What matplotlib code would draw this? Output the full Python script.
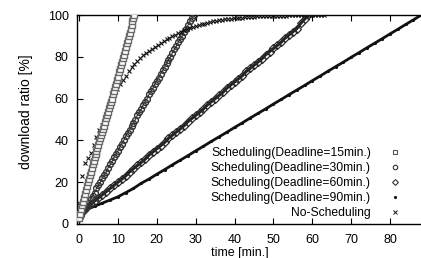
import numpy as np
import matplotlib
matplotlib.use("Agg")
import matplotlib.pyplot as plt
from matplotlib.lines import Line2D

plt.rcParams['font.family'] = ['Liberation Sans', 'DejaVu Sans']

# download ratio [%], one value per sample step
step15 = 0.25
ratio15 = [3, 5, 7, 9, 10.5, 12.5, 14.5, 16.5, 18, 20, 21.5, 23.5, 25, 27, 28.5, 30,
           32, 33.5, 35, 36.5, 38, 39.5, 41, 42.5, 44, 45.5, 47, 49, 50.5, 52, 53.5,
           55.5, 57, 58.5, 60, 62, 63.5, 65.5, 67, 69, 70.5, 72.5, 74, 76, 77.5, 79.5,
           81, 83, 84.5, 86.5, 88, 90, 91.5, 93.5, 95, 97, 98.5, 100]

step30 = 0.5
ratio30 = [3, 4.5, 6, 7, 8.5, 10, 12, 13.5, 15, 17, 18.5, 20, 22, 23.5, 25, 27, 28.5,
           30, 32, 33.5, 35, 37, 38.5, 40, 42, 43.5, 45, 47, 48.5, 50, 52, 53.5, 55,
           57, 58.5, 60, 62, 63.5, 65, 67, 68.5, 70, 72, 73.5, 75, 77, 78.5, 80, 82,
           83.5, 85, 87, 88.5, 90, 92, 93.5, 95, 97, 98.5, 100]

step60 = 1.0
ratio60 = [3, 6, 8, 9.5, 11, 12.5, 14, 15.5, 17, 18.5, 20, 21.5, 23, 25, 26.5, 28,
           29.5, 31, 33, 34.5, 36, 37.5, 39, 41, 42.5, 44, 45.5, 47, 49, 50.5, 52,
           53.5, 55, 57, 58.5, 60, 61.5, 63, 65, 66.5, 68, 69.5, 71, 73, 74.5, 76,
           77.5, 79, 81, 82.5, 84, 85.5, 87, 89, 90.5, 92, 93.5, 96, 98, 100]

step90 = 2.0
ratio90 = [3, 7, 8.5, 10, 11.5, 13, 15, 17, 19.5, 21.5, 23.8, 26, 28.3, 30.5, 32.7,
           35, 37.2, 39.5, 41.7, 43.9, 46.2, 48.4, 50.7, 52.9, 55.1, 57.4, 59.6, 61.9,
           64.1, 66.3, 68.6, 70.8, 73.1, 75.3, 77.5, 79.8, 82, 84.3, 86.5, 88.7, 91,
           93.2, 95.5, 97.7, 100]

step_no = 0.75
ratio_no = [10, 23, 29, 31.5, 34, 38, 41.5, 45, 47.5, 51, 54.5, 58, 61.5, 64.5, 67,
            69, 71, 73, 75, 76.5, 78, 79.5, 80.7, 81.8, 82.8, 83.8, 84.8, 85.7, 86.6,
            87.5, 88.3, 89.1, 89.9, 90.6, 91.3, 92, 92.6, 93.2, 93.7, 94.2, 94.7, 95.1,
            95.5, 95.9, 96.3, 96.6, 96.9, 97.2, 97.5, 97.7, 97.9, 98.1, 98.3, 98.5,
            98.6, 98.7, 98.8, 98.9, 99, 99.1, 99.2, 99.3, 99.3, 99.4, 99.4, 99.5, 99.5,
            99.6, 99.6, 99.7, 99.7, 99.7, 99.8, 99.8, 99.8, 99.9, 99.9, 99.9, 99.9,
            100, 100, 100, 100, 100, 100]

labels = ['Scheduling(Deadline=15min.)', 'Scheduling(Deadline=30min.)',
          'Scheduling(Deadline=60min.)', 'Scheduling(Deadline=90min.)', 'No-Scheduling']
xticks = [0, 10, 20, 30, 40, 50, 60, 70, 80]
yticks = [0, 20, 40, 60, 80, 100]


def times(vals, step):
    return np.arange(len(vals)) * step


fig = plt.figure(figsize=(4.21, 2.58), dpi=100)
ax = fig.add_axes([77.05 / 421, 34 / 258, 352 / 421, 209 / 258])

ax.plot(times(ratio90, step90), ratio90, color='#111111', lw=2.0, marker='.',
        ms=2.5, zorder=2)
ax.plot(times(ratio60, step60), ratio60, color='#222222', lw=2.2, ls='-', marker='D',
        ms=4.0, mfc='none', mec='#2a2a2a', mew=0.9, zorder=3)
ax.plot(times(ratio30, step30), ratio30, color='#333333', lw=0.8, marker='o', ms=4.2,
        mfc='none', mec='#333333', mew=1.0, zorder=4)
ax.plot(times(ratio_no, step_no), ratio_no, ls='none', marker='x', ms=3.2,
        mec='#111111', mew=0.8, zorder=5)
ax.plot(times(ratio15, step15), ratio15, ls='none', marker='s', ms=3.8, mfc='white',
        mec='#6a6a6a', mew=1.0, zorder=6)

ax.set_xlim(-0.5, 90)
ax.set_ylim(0, 100)
ax.set_xticks(xticks)
ax.set_yticks(yticks)
ax.tick_params(direction='in', length=4, width=0.8, top=True, labelsize=9, pad=7,
               colors='black')
ax.tick_params(axis='y', pad=6)
for s in ax.spines.values():
    s.set_linewidth(1.0)

ax.set_xlabel('time [min.]', fontsize=9)
ax.xaxis.set_label_coords(0.463, -0.11)
ax.set_ylabel('download ratio [%]', fontsize=10)
ax.yaxis.set_label_coords(-0.125, 0.536)

handles = [
    Line2D([], [], ls='none', marker='s', ms=3, mfc='white', mec='#555555', mew=0.8),
    Line2D([], [], ls='none', marker='o', ms=3.2, mfc='none', mec='#333333', mew=0.8),
    Line2D([], [], ls='none', marker='D', ms=3, mfc='none', mec='#333333', mew=0.8),
    Line2D([], [], ls='none', marker='.', ms=2.5, color='#111111'),
    Line2D([], [], ls='none', marker='x', ms=2.6, mec='#111111', mew=0.7),
]
fig.legend(handles, labels, loc='lower right', bbox_to_anchor=(401 / 421, 39 / 258),
           frameon=False, markerfirst=False, fontsize=8.7, handlelength=1.0,
           handletextpad=1.5, borderpad=0, borderaxespad=0, labelspacing=0.25,
           numpoints=1)

fig.savefig('out.png', dpi=100)
